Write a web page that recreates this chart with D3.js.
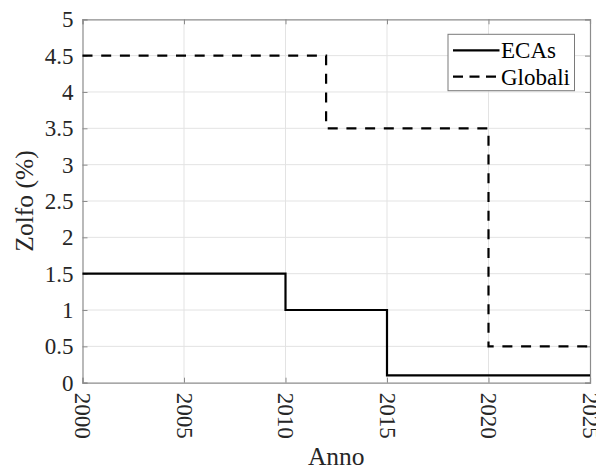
<!DOCTYPE html>
<html>
<head>
<meta charset="utf-8">
<script src="https://cdn.jsdelivr.net/npm/d3@7"></script>
<style>
  html, body { margin: 0; padding: 0; background: #fff; }
  svg { display: block; }
  svg text { font-family: "Liberation Serif", "Times New Roman", serif !important; }
</style>
</head>
<body>
<svg id="chart" width="596" height="470"></svg>
<script>
// Data
const seriesNames = ["ECAs", "Globali"];
const ecasYears = [2000, 2010, 2015, 2025];
const ecasValues = [1.5, 1.0, 0.1, 0.1];
const globaliYears = [2000, 2012, 2020, 2025];
const globaliValues = [4.5, 3.5, 0.5, 0.5];
const xTicks = [2000, 2005, 2010, 2015, 2020, 2025];
const yTicks = [0, 0.5, 1, 1.5, 2, 2.5, 3, 3.5, 4, 4.5, 5];
const xLabel = "Anno";
const yLabel = "Zolfo (%)";

const svg = d3.select("#chart");
const L = 82.5, R = 590, T = 19.3, B = 382.7;

const x = d3.scaleLinear().domain([2000, 2025]).range([L, R]);
const y = d3.scaleLinear().domain([0, 5]).range([B, T]);

// Grid
const grid = svg.append("g");
grid.selectAll(".gx").data(xTicks.slice(1, -1)).join("line")
  .attr("x1", d => x(d)).attr("x2", d => x(d)).attr("y1", T).attr("y2", B)
  .attr("stroke", "#e3e3e3").attr("stroke-width", 1);
grid.selectAll(".gy").data(yTicks.slice(1, -1)).join("line")
  .attr("y1", d => y(d)).attr("y2", d => y(d)).attr("x1", L).attr("x2", R)
  .attr("stroke", "#e3e3e3").attr("stroke-width", 1);

// Axes (MATLAB style: ticks inside on all sides)
const tickColor = "#8c8c8c";
const xAxisB = d3.axisBottom(x).tickValues(xTicks).tickSize(-5).tickFormat(d3.format("d")).tickPadding(10);
const gxb = svg.append("g").attr("transform", `translate(0,${B})`).call(xAxisB);
gxb.select(".domain").attr("stroke", tickColor);
gxb.selectAll(".tick line").attr("stroke", tickColor);
gxb.selectAll(".tick text")
  .attr("fill", "#262626").attr("font-size", 23)
  .attr("transform", "rotate(90)")
  .attr("text-anchor", "start")
  .attr("x", 10).attr("y", 0).attr("dy", "0.33em");

const xAxisT = d3.axisTop(x).tickValues(xTicks).tickSize(-5).tickFormat("");
const gxt = svg.append("g").attr("transform", `translate(0,${T})`).call(xAxisT);
gxt.select(".domain").attr("stroke", tickColor);
gxt.selectAll(".tick line").attr("stroke", tickColor);

const yAxisL = d3.axisLeft(y).tickValues(yTicks).tickSize(-5).tickFormat(d3.format("~g")).tickPadding(9);
const gyl = svg.append("g").attr("transform", `translate(${L},0)`).call(yAxisL);
gyl.select(".domain").attr("stroke", tickColor);
gyl.selectAll(".tick line").attr("stroke", tickColor);
gyl.selectAll(".tick text").attr("fill", "#262626").attr("font-size", 23).attr("dy", "0.33em");

const yAxisR = d3.axisRight(y).tickValues(yTicks).tickSize(-5).tickFormat("");
const gyr = svg.append("g").attr("transform", `translate(${R},0)`).call(yAxisR);
gyr.select(".domain").attr("stroke", tickColor);
gyr.selectAll(".tick line").attr("stroke", tickColor);

svg.selectAll(".domain").attr("stroke-width", 1.2);

// Lines (stairs)
const line = d3.line().x(d => x(d[0])).y(d => y(d[1])).curve(d3.curveStepAfter);
const ecasData = ecasYears.map((yr, i) => [yr, ecasValues[i]]);
const globData = globaliYears.map((yr, i) => [yr, globaliValues[i]]);

svg.append("path").datum(ecasData).attr("d", line)
  .attr("fill", "none").attr("stroke", "#000").attr("stroke-width", 2.2);
svg.append("path").datum(globData).attr("d", line)
  .attr("fill", "none").attr("stroke", "#000").attr("stroke-width", 2.2)
  .attr("stroke-dasharray", "10,8.7");

// Axis labels
svg.append("text").attr("x", (L + R) / 2).attr("y", 465)
  .attr("text-anchor", "middle").attr("font-size", 25.5).attr("fill", "#262626").text(xLabel);
svg.append("text").attr("transform", `translate(33,${(T + B) / 2}) rotate(-90)`)
  .attr("text-anchor", "middle").attr("font-size", 25.5).attr("fill", "#262626").text(yLabel);

// Legend
const lg = svg.append("g");
lg.append("rect").attr("x", 448).attr("y", 34.3).attr("width", 126.5).attr("height", 56.4)
  .attr("fill", "#fff").attr("stroke", "#7a7a7a").attr("stroke-width", 1);
const legY = [50.3, 76.7];
const dashes = [null, "10,6.5"];
seriesNames.forEach((name, i) => {
  lg.append("line").attr("x1", 453).attr("x2", 499.5).attr("y1", legY[i]).attr("y2", legY[i])
    .attr("stroke", "#000").attr("stroke-width", 2.2)
    .attr("stroke-dasharray", dashes[i]);
  lg.append("text").attr("x", 501).attr("y", legY[i]).attr("dy", "0.35em")
    .attr("font-size", 23).attr("fill", "#000").text(name);
});
</script>
</body>
</html>
